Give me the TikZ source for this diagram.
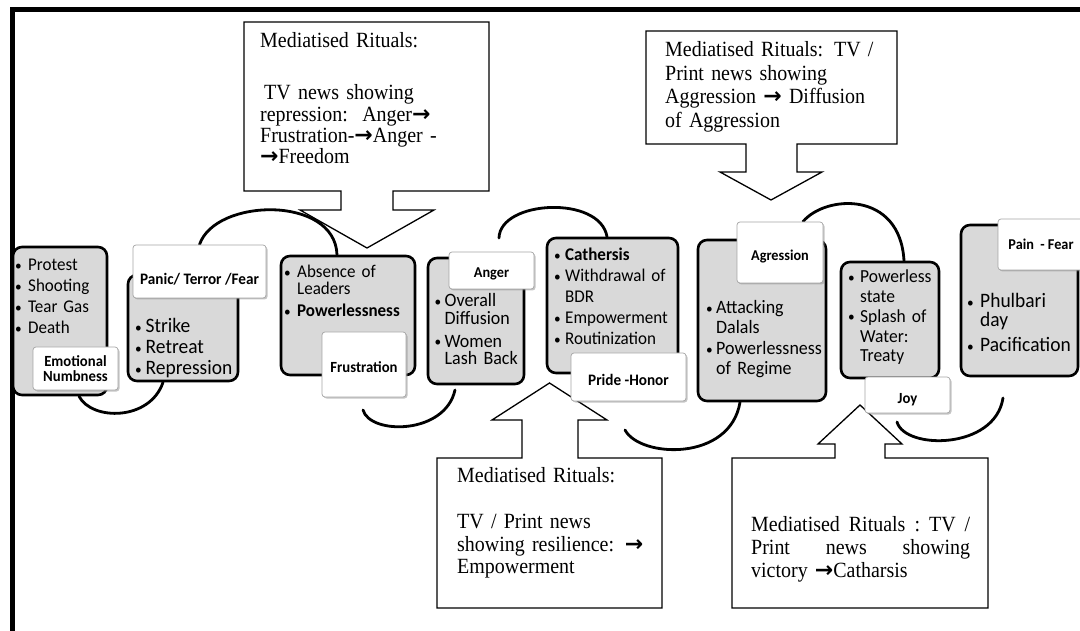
\documentclass[tikz,border=0pt]{standalone}
\usepackage{fontspec}
\setmainfont{Liberation Serif}[FakeStretch=0.92]
\newfontfamily\calfont{Carlito}[FakeStretch=0.95]
\newfontfamily\arrowfont{DejaVu Sans}
\usetikzlibrary{shadows,backgrounds}

\definecolor{boxgray}{RGB}{217,217,217}
\definecolor{labedge}{RGB}{165,165,165}

% font helpers: size and line spacing, with no extra line skip
\newcommand\cfnt[2]{\calfont\fontsize{#1pt}{#2pt}\selectfont\lineskiplimit=-100pt\relax}
\newcommand\tfnt[2]{\rmfamily\fontsize{#1pt}{#2pt}\selectfont\lineskiplimit=-100pt\relax}
% small bullet, bulleted line and its continuation line
\newcommand\dotmark{{\fontsize{14}{14}\selectfont\raisebox{0.8pt}{\textbullet}}}
\newcommand\bul[2]{\makebox[#1pt][l]{\dotmark}{#2}}
\newcommand\cont[2]{\hspace*{#1pt}{#2}}
% heavy right arrow used in the ritual texts
\newcommand\arr{{\arrowfont\bfseries\fontsize{22}{22}\selectfont →}}

\tikzset{
  gbox/.style={draw=black, line width=2.6pt, fill=boxgray, rounded corners=9pt, inner sep=0pt},
  lab/.style={draw=labedge, line width=0.7pt, fill=white, rounded corners=3pt, inner sep=0pt,
    align=center, drop shadow={shadow xshift=1.5pt, shadow yshift=-1.5pt, fill=black!45, opacity=0.5}},
  labfont/.style={font=\cfnt{#1}{15.5}\bfseries},
  flow/.style={line width=2.8pt, line cap=round},
  callout/.style={draw=black, line width=1.3pt, fill=white, line join=miter},
  txt/.style={anchor=base west, inner sep=0pt, text width=230pt, align=left},
}

\begin{document}
\begin{tikzpicture}[x=1pt, y=-1pt]
\useasboundingbox (0,0) rectangle (1080,631);

% frame
\draw[line width=5pt, line join=miter] (12.5,640) -- (12.5,9.5) -- (1090,9.5);

% mediatised ritual callouts
\draw[callout] (244,22) -- (489,22) -- (489,191) -- (393,191) -- (393,210) -- (434,210)
  -- (367,248) -- (300,210) -- (341,210) -- (341,191) -- (244,191) -- cycle;
\draw[callout] (646,31) -- (897,31) -- (897,144) -- (797,144) -- (797,172) -- (822,172)
  -- (771,200) -- (720,172) -- (746,172) -- (746,144) -- (646,144) -- cycle;
\draw[callout] (437,458) -- (522,458) -- (522,420) -- (492,420) -- (549.5,383) -- (607,420)
  -- (578,420) -- (578,458) -- (662,458) -- (662,608) -- (437,608) -- cycle;
\draw[callout] (732,458) -- (835,458) -- (835,444) -- (818,444) -- (860,405) -- (902,444)
  -- (885,444) -- (885,458) -- (988,458) -- (988,608) -- (732,608) -- cycle;

% stage boxes
\node[gbox, minimum width=94pt,  minimum height=148pt] (bA) at (60,321) {};
\node[gbox, minimum width=110pt, minimum height=106pt] (bB) at (183,328) {};
\node[gbox, minimum width=134pt, minimum height=119pt] (bC) at (348,315.5) {};
\node[gbox, minimum width=96pt,  minimum height=126pt] (bD) at (476,321) {};
\node[gbox, minimum width=131pt, minimum height=135pt] (bE) at (612.5,305.5) {};
\node[gbox, minimum width=128pt, minimum height=161pt] (bF) at (762,320.5) {};
\node[gbox, minimum width=98pt,  minimum height=116pt] (bG) at (890,320) {};
\node[gbox, minimum width=117pt, minimum height=151pt] (bH) at (1019.5,300.5) {};

% emotion labels
\node[lab, labfont=15.5, minimum width=85pt, minimum height=43pt] (lA) at (75.5,368.5) {Emotional\\Numbness};
\node[lab, labfont=16, minimum width=133pt, minimum height=53pt, text height=27pt, text depth=0pt] (lB) at (199.5,271.5) {Panic/ Terror /Fear};
\node[lab, labfont=15.5, minimum width=84pt, minimum height=65pt, text height=15pt, text depth=0pt] (lC) at (364,364.5) {Frustration};
\node[lab, labfont=15, minimum width=85pt, minimum height=37pt, text height=15pt, text depth=0pt] (lD) at (491.5,270.5) {Anger};
\node[lab, labfont=16, minimum width=115pt, minimum height=48pt, text height=16pt, text depth=0pt] (lE) at (628.5,377) {Pride -Honor};
\node[lab, labfont=15, minimum width=86pt, minimum height=61pt, text height=17pt, text depth=0pt] (lF) at (780,252.5) {Agression};
\node[lab, labfont=15.5, minimum width=85pt, minimum height=36pt, text height=16pt, text depth=0pt] (lG) at (907.5,395) {Joy};
\node[lab, labfont=15, minimum width=86pt, minimum height=51pt, text height=11pt, text depth=0pt] (lH) at (1041,244.5) {Pain\ \ - Fear};

% flowing connectors between the stages
\begin{scope}[on background layer]
  \fill[white] (0,0) rectangle (1080,631);
  \coordinate (f3s) at (363,410);
  \coordinate (f3e) at (455,390);
  \coordinate (f4s) at (499,238);
  \coordinate (f5s) at (625,430);
  \coordinate (f7s) at (897,422);
  \coordinate (f7e) at (1003,398);
  \draw[flow] ([xshift=19pt]bA.south) .. controls (92,421) and (150,421) .. ([xshift=-20pt]bB.south);
  \draw[flow] (lB.north) .. controls (215,198) and (335,195) .. ([xshift=-11pt]bC.north);
  \draw[flow] (f3s) .. controls (370,435) and (445,435) .. (f3e);
  \draw[flow] (f4s) .. controls (500,200) and (600,195) .. ([xshift=-5.5pt]bE.north);
  \draw[flow] (f5s) .. controls (640,458) and (730,462) .. ([xshift=-22pt]bF.south);
  \draw[flow] ([xshift=23pt]lF.north) .. controls (825,195) and (900,190) .. ([xshift=14pt]bG.north);
  \draw[flow] (f7s) .. controls (905,450) and (995,450) .. (f7e);
\end{scope}

% stage contents
\node[txt, font=\cfnt{17.9}{21}] (tA) at (15,271)
  {\bul{13}{Protest}\\\bul{13}{Shooting}\\\bul{13}{Tear Gas}\\\bul{13}{Death}};
\node[txt, font=\cfnt{20.5}{21}] (tB) at (135,333)
  {\bul{10.5}{Strike}\\\bul{10.5}{Retreat}\\\bul{10.5}{Repression}};
\node[txt, font=\cfnt{17.9}{17}] (tC) at (284,278)
  {\bul{13}{Absence of}\\\cont{13}{Leaders}\\[5pt]\bul{13}{\bfseries Powerlessness}};
\node[txt, font=\cfnt{18.9}{17.5}] (tD) at (434.5,307)
  {\bul{10}{Overall}\\\cont{10}{Diffusion}\\[5.5pt]\bul{10}{Women}\\\cont{10}{Lash Back}};
\node[txt, font=\cfnt{17.9}{21}] (tE) at (554,261)
  {\bul{11}{\bfseries Cathersis}\\\bul{11}{Withdrawal of}\\\cont{11}{BDR}\\\bul{11}{Empowerment}\\\bul{11}{Routinization}};
\node[txt, font=\cfnt{18.9}{19.5}] (tF) at (706,314)
  {\bul{10}{Attacking}\\\cont{10}{Dalals}\\[2pt]\bul{10}{Powerlessness}\\\cont{10}{of Regime}};
\node[txt, font=\cfnt{18.4}{19.7}] (tG) at (848,283)
  {\bul{12}{Powerless}\\\cont{12}{state}\\\bul{12}{Splash of}\\\cont{12}{Water:}\\\cont{12}{Treaty}};
\node[txt, font=\cfnt{20.5}{19}] (tH) at (967,308)
  {\bul{13}{Phulbari}\\\cont{13}{day}\\[6pt]\bul{13}{Pacification}};

% callout texts
\node[txt, font=\tfnt{21.7}{21.3}] (c1) at (260,48)
  {Mediatised Rituals:\\[30.7pt]\hspace*{4pt}TV news showing\\repression:\ \ Anger\arr\\Frustration-\arr Anger -\\\arr Freedom};
\node[txt, font=\tfnt{21.7}{23.5}] (c2) at (665,57)
  {Mediatised Rituals: TV /\\Print news showing\\Aggression \arr\ Diffusion\\of Aggression};
\node[txt, font=\tfnt{21.7}{23}] (c3) at (457,482)
  {Mediatised Rituals:\\[23pt]TV / Print news\\showing resilience: \arr\\Empowerment};
\node[txt, font=\tfnt{21.7}{23}] (c4) at (751,531)
  {\makebox[219pt][s]{Mediatised\hfill\ Rituals\hfill\ :\hfill\ TV\hfill\ /}\\\makebox[219pt][s]{Print\hfill\ news\hfill\ showing}\\victory \arr Catharsis};
\end{tikzpicture}
\end{document}
